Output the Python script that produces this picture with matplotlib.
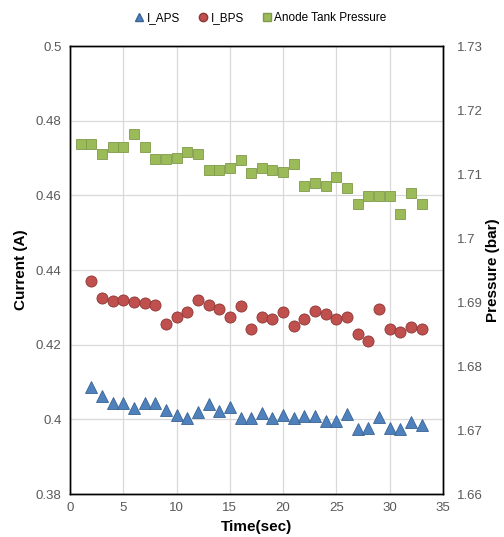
import matplotlib
matplotlib.use("Agg")
import matplotlib.pyplot as plt
from matplotlib.lines import Line2D

plt.rcParams['font.family'] = ['Liberation Sans', 'DejaVu Sans']

time_s = list(range(2, 34))
time_p = list(range(1, 34))

i_aps = [0.4087, 0.4063, 0.4045, 0.4045, 0.4030, 0.4045, 0.4043, 0.4025, 0.4012,
         0.4005, 0.4020, 0.4040, 0.4022, 0.4034, 0.4003, 0.4005, 0.4016, 0.4005,
         0.4013, 0.4003, 0.4010, 0.4009, 0.3996, 0.3996, 0.4014, 0.3973, 0.3976,
         0.4007, 0.3976, 0.3973, 0.3994, 0.3985]

i_bps = [0.4371, 0.4326, 0.4318, 0.4320, 0.4315, 0.4312, 0.4307, 0.4255, 0.4275,
         0.4288, 0.4320, 0.4306, 0.4295, 0.4275, 0.4304, 0.4242, 0.4275, 0.4268,
         0.4288, 0.4250, 0.4270, 0.4291, 0.4282, 0.4268, 0.4275, 0.4228, 0.4210,
         0.4295, 0.4241, 0.4233, 0.4247, 0.4241]

pressure = [1.7147, 1.7147, 1.7131, 1.7143, 1.7143, 1.7163, 1.7143, 1.7123, 1.7123,
            1.7125, 1.7135, 1.7131, 1.7106, 1.7106, 1.7109, 1.7122, 1.7102, 1.7110,
            1.7106, 1.7103, 1.7116, 1.7081, 1.7086, 1.7081, 1.7095, 1.7078, 1.7053,
            1.7066, 1.7066, 1.7066, 1.7037, 1.7070, 1.7053]

x_ticks = [0, 5, 10, 15, 20, 25, 30, 35]
left_ticks = [0.38, 0.40, 0.42, 0.44, 0.46, 0.48, 0.50]
right_ticks = [1.66, 1.67, 1.68, 1.69, 1.70, 1.71, 1.72, 1.73]

c_aps = '#4F81BD'
c_bps = '#C0504D'
c_p = '#9BBB59'
tick_col = '#595959'
grid_col = '#D9D9D9'

fig = plt.figure(figsize=(5.04, 5.37), dpi=100)
ax = fig.add_axes([0.1389, 0.080, 0.740, 0.8343])
ax2 = ax.twinx()

ax.set_xlim(0, 35)
ax.set_ylim(0.38, 0.50)
ax2.set_ylim(1.66, 1.73)
ax.set_xticks(x_ticks)
ax.set_yticks(left_ticks)
ax2.set_yticks(right_ticks)
ax.set_yticklabels([f"{v:g}" for v in left_ticks])
ax2.set_yticklabels([f"{v:g}" for v in right_ticks])

ax.grid(True, color=grid_col, linewidth=0.9)
ax.set_axisbelow(True)

for a in (ax, ax2):
    for sp in a.spines.values():
        sp.set_color('black')
        sp.set_linewidth(1.0)
    a.tick_params(length=0, labelsize=9.5, colors=tick_col, pad=6)
ax2.tick_params(axis='y', pad=10)

ax.plot(time_s, i_aps, linestyle='none', marker='^', markersize=9,
        markerfacecolor=c_aps, markeredgecolor='#3A6494', markeredgewidth=0.6)
ax.plot(time_s, i_bps, linestyle='none', marker='o', markersize=8,
        markerfacecolor=c_bps, markeredgecolor='#8C3836', markeredgewidth=0.6)
ax2.plot(time_p, pressure, linestyle='none', marker='s', markersize=7.5,
         markerfacecolor=c_p, markeredgecolor='#7F9A4A', markeredgewidth=0.6)

ax.set_xlabel('Time(sec)', fontsize=11, fontweight='bold', labelpad=4)
ax.set_ylabel('Current (A)', fontsize=11, fontweight='bold', labelpad=6)
ax2.set_ylabel('Pressure (bar)', fontsize=11, fontweight='bold', labelpad=2)

handles = [
    Line2D([], [], linestyle='none', marker='^', markersize=6, markerfacecolor=c_aps, markeredgecolor='#3A6494'),
    Line2D([], [], linestyle='none', marker='o', markersize=6, markerfacecolor=c_bps, markeredgecolor='#8C3836'),
    Line2D([], [], linestyle='none', marker='s', markersize=6, markerfacecolor=c_p, markeredgecolor='#7F9A4A'),
]
fig.legend(handles, ['I_APS', 'I_BPS', 'Anode Tank Pressure'], loc='center',
           bbox_to_anchor=(0.515, 0.967), ncol=3, frameon=False, fontsize=8.5,
           handletextpad=0.0, columnspacing=1.4, handlelength=1.2)

fig.savefig('out.png', dpi=100)
